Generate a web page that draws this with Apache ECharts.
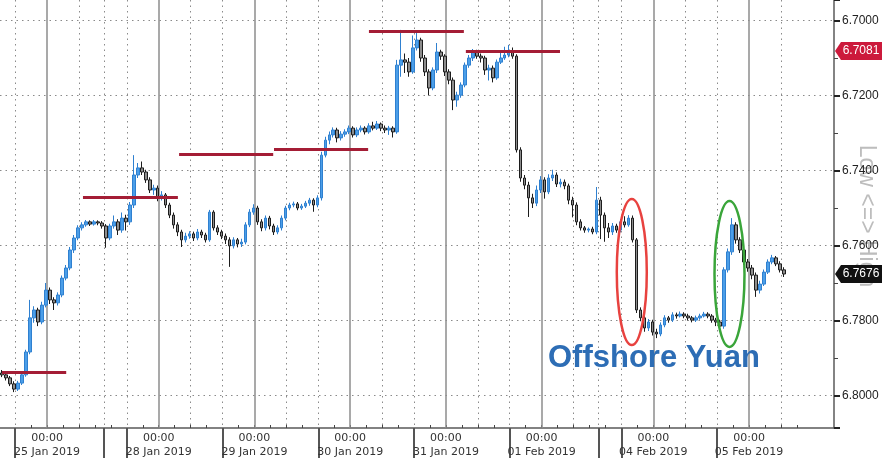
<!DOCTYPE html>
<html><head><meta charset="utf-8">
<script src="https://cdn.jsdelivr.net/npm/echarts@6/dist/echarts.min.js"></script>
<style>html,body{margin:0;padding:0;background:#fff}#c{width:890px;height:462px}</style>
</head><body><div id="c"></div>
<script>
// x unit: trading hours relative to 25 Jan 2019 00:00 (weekends compressed); one candle per hour
const firstHour = -11.25;
// [open, close, lowest, highest]  USD/CNH
const ohlc = [
[6.7940,6.7945,6.7932,6.7951],[6.7945,6.7953,6.7940,6.7960],[6.7953,6.7969,6.7948,6.7975],[6.7969,6.7983,6.7962,6.7991],
[6.7983,6.7967,6.7961,6.7988],[6.7967,6.7945,6.7938,6.7972],[6.7945,6.7884,6.7878,6.7950],[6.7884,6.7793,6.7745,6.7890],
[6.7793,6.7772,6.7762,6.7806],[6.7772,6.7804,6.7766,6.7815],[6.7804,6.7759,6.7750,6.7810],[6.7759,6.7719,6.7700,6.7765],
[6.7719,6.7745,6.7712,6.7756],[6.7745,6.7753,6.7738,6.7772],[6.7753,6.7732,6.7725,6.7760],[6.7732,6.7687,6.7680,6.7738],
[6.7687,6.7660,6.7652,6.7693],[6.7660,6.7612,6.7604,6.7666],[6.7612,6.7580,6.7572,6.7620],[6.7580,6.7553,6.7546,6.7586],
[6.7553,6.7545,6.7538,6.7560],[6.7545,6.7537,6.7532,6.7550],[6.7537,6.7543,6.7533,6.7548],[6.7543,6.7537,6.7532,6.7547],
[6.7537,6.7540,6.7533,6.7546],[6.7540,6.7548,6.7535,6.7555],[6.7548,6.7580,6.7543,6.7606],[6.7580,6.7548,6.7542,6.7586],
[6.7548,6.7537,6.7520,6.7555],[6.7537,6.7559,6.7530,6.7572],[6.7559,6.7527,6.7512,6.7566],[6.7527,6.7537,6.7518,6.7560],
[6.7537,6.7492,6.7484,6.7545],[6.7492,6.7412,6.7359,6.7500],[6.7412,6.7393,6.7380,6.7420],[6.7393,6.7404,6.7376,6.7412],
[6.7404,6.7425,6.7398,6.7433],[6.7425,6.7452,6.7418,6.7460],[6.7452,6.7447,6.7438,6.7465],[6.7447,6.7473,6.7440,6.7482],
[6.7473,6.7465,6.7455,6.7480],[6.7465,6.7492,6.7460,6.7500],[6.7492,6.7519,6.7486,6.7527],[6.7519,6.7545,6.7512,6.7555],
[6.7545,6.7564,6.7538,6.7575],[6.7564,6.7585,6.7558,6.7604],[6.7585,6.7575,6.7566,6.7592],[6.7575,6.7569,6.7562,6.7582],
[6.7569,6.7580,6.7563,6.7588],[6.7580,6.7564,6.7556,6.7586],[6.7564,6.7572,6.7558,6.7580],[6.7572,6.7585,6.7566,6.7592],
[6.7585,6.7511,6.7505,6.7590],[6.7511,6.7553,6.7506,6.7560],[6.7553,6.7564,6.7546,6.7572],[6.7564,6.7575,6.7558,6.7583],
[6.7575,6.7585,6.7568,6.7596],[6.7585,6.7601,6.7578,6.7657],[6.7601,6.7585,6.7578,6.7608],[6.7585,6.7596,6.7580,6.7605],
[6.7596,6.7591,6.7582,6.7604],[6.7591,6.7545,6.7538,6.7597],[6.7545,6.7511,6.7503,6.7551],[6.7511,6.7500,6.7490,6.7518],
[6.7500,6.7537,6.7494,6.7545],[6.7537,6.7553,6.7530,6.7562],[6.7553,6.7527,6.7520,6.7560],[6.7527,6.7548,6.7521,6.7557],
[6.7548,6.7564,6.7542,6.7572],[6.7564,6.7553,6.7546,6.7570],[6.7553,6.7527,6.7520,6.7560],[6.7527,6.7500,6.7494,6.7533],
[6.7500,6.7492,6.7486,6.7506],[6.7492,6.7489,6.7483,6.7498],[6.7489,6.7500,6.7484,6.7506],[6.7500,6.7495,6.7489,6.7505],
[6.7495,6.7487,6.7481,6.7500],[6.7487,6.7479,6.7473,6.7494],[6.7479,6.7492,6.7474,6.7510],[6.7492,6.7473,6.7466,6.7498],
[6.7473,6.7359,6.7350,6.7480],[6.7359,6.7319,6.7310,6.7365],[6.7319,6.7305,6.7296,6.7330],[6.7305,6.7292,6.7285,6.7312],
[6.7292,6.7313,6.7286,6.7325],[6.7313,6.7303,6.7295,6.7320],[6.7303,6.7297,6.7290,6.7310],[6.7297,6.7287,6.7280,6.7303],
[6.7287,6.7305,6.7282,6.7312],[6.7305,6.7292,6.7285,6.7311],[6.7292,6.7287,6.7280,6.7298],[6.7287,6.7297,6.7282,6.7304],
[6.7297,6.7281,6.7274,6.7302],[6.7281,6.7287,6.7270,6.7293],[6.7287,6.7276,6.7268,6.7292],[6.7276,6.7287,6.7272,6.7295],
[6.7287,6.7292,6.7280,6.7300],[6.7292,6.7287,6.7281,6.7305],[6.7287,6.7297,6.7282,6.7312],[6.7297,6.7119,6.7105,6.7302],
[6.7119,6.7105,6.7025,6.7150],[6.7105,6.7111,6.7088,6.7140],[6.7111,6.7137,6.7100,6.7150],[6.7137,6.7073,6.7040,6.7142],
[6.7073,6.7052,6.7033,6.7080],[6.7052,6.7100,6.7046,6.7110],[6.7100,6.7137,6.7092,6.7148],[6.7137,6.7180,6.7130,6.7200],
[6.7180,6.7132,6.7125,6.7186],[6.7132,6.7084,6.7060,6.7140],[6.7084,6.7095,6.7078,6.7105],[6.7095,6.7137,6.7090,6.7148],
[6.7137,6.7159,6.7130,6.7170],[6.7159,6.7212,6.7152,6.7239],[6.7212,6.7199,6.7190,6.7230],[6.7199,6.7172,6.7165,6.7206],
[6.7172,6.7119,6.7112,6.7178],[6.7119,6.7100,6.7092,6.7126],[6.7100,6.7084,6.7076,6.7108],[6.7084,6.7095,6.7078,6.7102],
[6.7095,6.7100,6.7088,6.7112],[6.7100,6.7132,6.7094,6.7145],[6.7132,6.7127,6.7118,6.7160],[6.7127,6.7153,6.7120,6.7165],
[6.7153,6.7111,6.7104,6.7158],[6.7111,6.7100,6.7085,6.7116],[6.7100,6.7092,6.7070,6.7105],[6.7092,6.7084,6.7065,6.7098],
[6.7084,6.7095,6.7072,6.7102],[6.7095,6.7345,6.7090,6.7352],[6.7345,6.7420,6.7338,6.7430],[6.7420,6.7439,6.7412,6.7450],
[6.7439,6.7473,6.7430,6.7524],[6.7473,6.7487,6.7462,6.7500],[6.7487,6.7452,6.7440,6.7495],[6.7452,6.7425,6.7415,6.7460],
[6.7425,6.7457,6.7418,6.7475],[6.7457,6.7420,6.7410,6.7463],[6.7420,6.7412,6.7398,6.7428],[6.7412,6.7436,6.7405,6.7444],
[6.7436,6.7431,6.7422,6.7445],[6.7431,6.7441,6.7424,6.7450],[6.7441,6.7479,6.7435,6.7490],[6.7479,6.7492,6.7470,6.7525],
[6.7492,6.7537,6.7485,6.7546],[6.7537,6.7553,6.7530,6.7560],[6.7553,6.7559,6.7548,6.7566],[6.7559,6.7556,6.7552,6.7565],
[6.7556,6.7564,6.7550,6.7570],[6.7564,6.7479,6.7444,6.7570],[6.7479,6.7519,6.7470,6.7583],[6.7519,6.7553,6.7512,6.7590],
[6.7553,6.7564,6.7540,6.7580],[6.7564,6.7548,6.7540,6.7572],[6.7548,6.7559,6.7542,6.7566],[6.7559,6.7537,6.7530,6.7565],
[6.7537,6.7545,6.7522,6.7552],[6.7545,6.7527,6.7519,6.7550],[6.7527,6.7585,6.7520,6.7592],[6.7585,6.7772,6.7580,6.7780],
[6.7772,6.7793,6.7765,6.7802],[6.7793,6.7820,6.7786,6.7830],[6.7820,6.7804,6.7796,6.7828],[6.7804,6.7831,6.7798,6.7840],
[6.7831,6.7836,6.7822,6.7847],[6.7836,6.7812,6.7805,6.7842],[6.7812,6.7793,6.7786,6.7818],[6.7793,6.7799,6.7788,6.7806],
[6.7799,6.7785,6.7778,6.7804],[6.7785,6.7788,6.7779,6.7795],[6.7788,6.7783,6.7776,6.7792],[6.7783,6.7788,6.7778,6.7794],
[6.7788,6.7793,6.7782,6.7800],[6.7793,6.7799,6.7788,6.7805],[6.7799,6.7793,6.7787,6.7804],[6.7793,6.7788,6.7782,6.7798],
[6.7788,6.7783,6.7777,6.7792],[6.7783,6.7788,6.7778,6.7794],[6.7788,6.7799,6.7783,6.7806],[6.7799,6.7804,6.7793,6.7815],
[6.7804,6.7815,6.7798,6.7826],[6.7815,6.7665,6.7658,6.7822],[6.7665,6.7617,6.7608,6.7672],[6.7617,6.7545,6.7527,6.7625],
[6.7545,6.7585,6.7538,6.7595],[6.7585,6.7612,6.7578,6.7620],[6.7612,6.7644,6.7605,6.7652],[6.7644,6.7660,6.7636,6.7670],
[6.7660,6.7679,6.7652,6.7690],[6.7679,6.7719,6.7672,6.7737],[6.7719,6.7703,6.7694,6.7728],[6.7703,6.7671,6.7664,6.7708],
[6.7671,6.7644,6.7637,6.7676],[6.7644,6.7633,6.7625,6.7650],[6.7633,6.7649,6.7628,6.7655],[6.7649,6.7665,6.7642,6.7672],
[6.7665,6.7676,6.7658,6.7684]
];
const dayHours = [0, 28, 52, 76, 100, 124, 152, 176];
const dayLabels = ['25 Jan 2019','28 Jan 2019','29 Jan 2019','30 Jan 2019','31 Jan 2019','01 Feb 2019','04 Feb 2019','05 Feb 2019'];
const dottedHours = [-8, 8, 14.25, 20, 36, 44, 60, 68, 84, 92, 108, 116, 132, 138.25, 144, 160, 168, 184];
const sessionBreaks = [-8, 14.25, 20, 44, 68, 92, 116, 138.25, 144, 168];
const smallTickHours = [-4,0,4,8,12,16,24,28,32,36,40,48,52,56,60,64,72,76,80,84,88,96,100,104,108,112,120,124,128,132,136,140,148,152,156,160,164,172,176,180,184,188];
const levelValues = [6.7937, 6.7470, 6.7356, 6.7343, 6.7028, 6.7081];
const levelStart  = [-11.3, 9.0, 33.1, 56.9, 80.7, 105.0];
const levelEnd    = [4.8, 32.8, 56.7, 80.5, 104.5, 128.6];
const tagValues = [6.7081, 6.7676];
const tagColors = ['#cc1a3c', '#111111'];
const circleHours = [146.6, 171.1];
const circleValues = [6.7671, 6.7676];
const circleColors = ['#e8423f', '#3aa53a'];
const annotation = 'Offshore Yuan';
const axisName = 'Low <=> High';

const X_MIN = -11.8, X_MAX = 197.3, Y_MIN = 6.69453, Y_MAX = 6.80867;
const hours = ohlc.map((_, i) => firstHour + i);
const candleData = ohlc.map((r, i) => [hours[i], r[0], r[1], r[2], r[3]]);

const dotStyle = {type: [1.5, 4], color: '#8a8a8a', width: 1};
const gridLines = [];
dayHours.forEach(h => gridLines.push([{coord: [h, Y_MIN], lineStyle: {type: 'solid', color: '#8c8c8c', width: 1.5}}, {coord: [h, Y_MAX]}]));
dottedHours.forEach(h => gridLines.push([{coord: [h, Y_MIN], lineStyle: dotStyle}, {coord: [h, Y_MAX]}]));
const levelLines = levelValues.map((v, i) => [{coord: [levelStart[i], v]}, {coord: [levelEnd[i], v]}]);

const chart = echarts.init(document.getElementById('c'), null, {renderer: 'canvas'});
chart.setOption({
  animation: false,
  backgroundColor: '#ffffff',
  grid: {left: 0, right: 56, top: 0, bottom: 34, containLabel: false, outerBoundsMode: 'none'},
  xAxis: [{
    type: 'value', min: X_MIN, max: X_MAX, position: 'bottom',
    axisLine: {show: true, onZero: false, lineStyle: {color: '#5a5a5a', width: 1.5}},
    axisTick: {show: true, customValues: sessionBreaks, length: 30, inside: false, lineStyle: {color: '#555', width: 2}},
    axisLabel: {show: true, customValues: dayHours, formatter: v => '00:00\n' + dayLabels[dayHours.indexOf(v)],
      fontFamily: 'DejaVu Sans', fontSize: 11, color: '#333', lineHeight: 14, margin: 3},
    splitLine: {show: false}
  }, {
    type: 'value', min: X_MIN, max: X_MAX, position: 'bottom', gridIndex: 0,
    axisLine: {show: false, onZero: false},
    axisTick: {show: true, customValues: smallTickHours, inside: true, length: 3, lineStyle: {color: '#444', width: 1}},
    axisLabel: {show: false}, splitLine: {show: false}
  }],
  yAxis: {
    type: 'value', position: 'right', inverse: true, min: Y_MIN, max: Y_MAX,
    axisLine: {show: true, onZero: false, lineStyle: {color: '#5a5a5a', width: 1.5}},
    axisTick: {show: true, length: 6, lineStyle: {color: '#222', width: 2}},
    minorTick: {show: true, splitNumber: 2, length: 4, lineStyle: {color: '#444', width: 1}},
    axisLabel: {show: true, margin: 8, fontSize: 12, color: '#222', fontFamily: 'Liberation Sans',
      showMinLabel: false, showMaxLabel: false,
      formatter: v => (Math.abs(v * 50 - Math.round(v * 50)) < 1e-6 ? v.toFixed(4) : '')},
    splitLine: {show: true, showMinLine: false, showMaxLine: false, lineStyle: dotStyle}
  },
  series: [{
    type: 'line', data: [[hours[0], ohlc[0][1]]], showSymbol: false, silent: true,
    lineStyle: {opacity: 0}, xAxisIndex: 0,
    markLine: {silent: true, z: 1, symbol: 'none', label: {show: false}, animation: false, data: gridLines}
  }, {
    type: 'candlestick', data: candleData, encode: {x: 0, y: [1, 2, 3, 4]}, xAxisIndex: 0,
    barWidth: 3, z: 2,
    itemStyle: {color: '#8d8d8d', color0: '#4b9ee8', borderColor: '#1c1c1c', borderColor0: '#2f80d0', borderWidth: 1},
    markLine: {silent: true, z: 5, symbol: 'none', label: {show: false}, animation: false,
      lineStyle: {color: '#a41d35', width: 3, type: 'solid'}, data: levelLines}
  }]
});

const gfx = [];
gfx.push({type: 'text', x: 866, y: 216, rotation: -Math.PI / 2, z: -1, zlevel: 0,
  style: {text: axisName, fill: '#bdbdbd', font: '23px "Liberation Sans"', textAlign: 'center', textVerticalAlign: 'middle'}});
circleHours.forEach((h, i) => {
  const p = chart.convertToPixel({xAxisIndex: 0, yAxisIndex: 0}, [h, circleValues[i]]);
  gfx.push({type: 'ellipse', z: 20, shape: {cx: p[0], cy: p[1], rx: 15, ry: 73},
    style: {fill: 'none', stroke: circleColors[i], lineWidth: 2.5}});
});
gfx.push({type: 'text', x: 548, y: 358, z: 20,
  style: {text: annotation, fill: '#2d6db5', font: 'bold 31px "Liberation Sans"', textAlign: 'left', textVerticalAlign: 'middle'}});
tagValues.forEach((v, i) => {
  const y = chart.convertToPixel({yAxisIndex: 0}, v);
  gfx.push({type: 'polygon', z: 30, shape: {points: [[835, y], [841, y - 9], [882, y - 9], [882, y + 9], [841, y + 9]]},
    style: {fill: tagColors[i]}});
  gfx.push({type: 'text', x: 861, y: y, z: 31,
    style: {text: v.toFixed(4), fill: '#ffffff', font: '12px "Liberation Sans"', textAlign: 'center', textVerticalAlign: 'middle'}});
});
chart.setOption({graphic: gfx});
</script>
</body></html>
